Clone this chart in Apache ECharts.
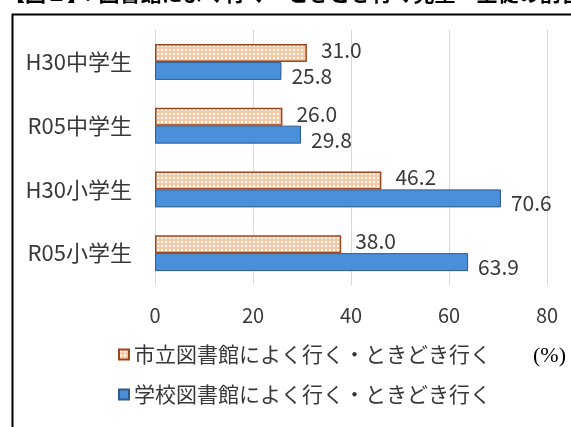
<!DOCTYPE html>
<html><head><meta charset="utf-8">
<script src="https://cdn.jsdelivr.net/npm/echarts@6/dist/echarts.min.js"></script>
<style>html,body{margin:0;padding:0;background:#fff}#c{width:571px;height:427px}</style>
</head><body><div id="c"></div>
<script>
var categories = ['H30中学生', 'R05中学生', 'H30小学生', 'R05小学生'];
var cityLibrary = [31.0, 26.0, 46.2, 38.0];
var schoolLibrary = [25.8, 29.8, 70.6, 63.9];
var seriesNames = ['市立図書館によく行く・ときどき行く', '学校図書館によく行く・ときどき行く'];
var xTicks = [0, 20, 40, 60, 80];

var pc = document.createElement('canvas');
pc.width = 4; pc.height = 4;
var g = pc.getContext('2d');
g.fillStyle = '#F6C9A4'; g.fillRect(0,0,4,4);
g.fillStyle = '#FFFFFF'; g.fillRect(1,1,2,2);

var font = '"Noto Sans CJK JP", "Noto Sans", sans-serif';
var txt = '#383838';
var chart = echarts.init(document.getElementById('c'), null, {renderer:'canvas'});
chart.setOption({
  animation:false,
  textStyle:{fontFamily:font},
  graphic:[
    {type:'rect', left:10, top:12, shape:{width:600, height:500}, style:{fill:'none', stroke:'#000', lineWidth:2}, z:-1},
    {type:'text', left:4, top:-17, style:{text:'【図２】：図書館によく行く・ときどき行く児童・生徒の割合', font:'bold 21px '+font, fill:'#000'}},
    {type:'text', left:533, top:345, style:{text:'(%)', font:'22px "Liberation Serif", serif', fill:'#000'}}
  ],
  grid:{left:155, right:24, top:30, bottom:142},
  legend:{
    orient:'vertical', left:113, top:339, itemWidth:10, itemHeight:10, itemGap:19, icon:'rect',
    textStyle:{fontSize:21, color:txt, fontFamily:font},
    data:seriesNames
  },
  xAxis:{
    type:'value', min:xTicks[0], max:xTicks[xTicks.length-1], interval:20,
    axisLine:{show:false}, axisTick:{show:false},
    splitLine:{lineStyle:{color:'#D9D9D9', width:1}},
    axisLabel:{fontSize:20, color:txt, margin:20}
  },
  yAxis:{
    type:'category', inverse:true, data:categories,
    axisLine:{show:false}, axisTick:{show:false},
    axisLabel:{fontSize:22, color:txt, margin:23}
  },
  series:[
    {name:seriesNames[0], type:'bar', data:cityLibrary, barWidth:18, barGap:'0%',
     itemStyle:{color:{image:pc, repeat:'repeat'}, borderColor:'#A0461C', borderWidth:1.5},
     label:{show:true, position:'right', distance:14, offset:[0,-3], fontSize:21, color:txt,
            formatter:function(p){return p.value.toFixed(1);}}},
    {name:seriesNames[1], type:'bar', data:schoolLibrary, barWidth:18, barGap:'0%',
     itemStyle:{color:'#4A8FDA', borderColor:'#2F5A8C', borderWidth:1},
     label:{show:true, position:'right', distance:10, offset:[0,5], fontSize:21, color:txt,
            formatter:function(p){return p.value.toFixed(1);}}}
  ]
});
</script></body></html>
